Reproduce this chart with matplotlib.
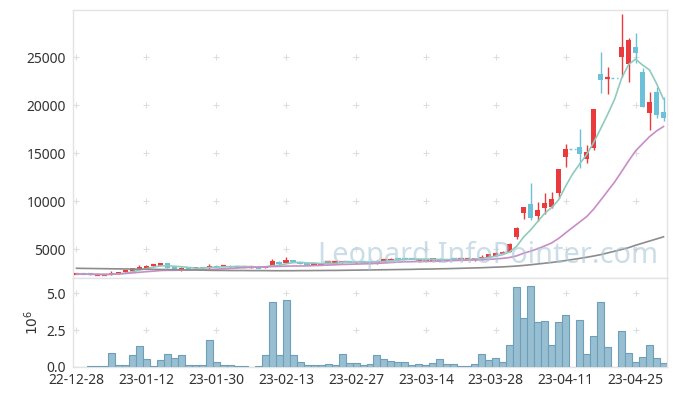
"""
Candlestick chart with moving averages and volume
"""

import numpy as np
import pandas as pd
import matplotlib
matplotlib.use("Agg")
import matplotlib.pyplot as plt

plt.rcParams["font.family"] = ["Noto Sans", "DejaVu Sans"]

# trading-day index 0..84, labels every 10 sessions
tick_labels = ["22-12-28", "23-01-12", "23-01-30", "23-02-13", "23-02-27",
               "23-03-14", "23-03-28", "23-04-11", "23-04-25"]

opens = [2400, 2420, 2400, 2340, 2320, 2330, 2460, 2670, 2700, 2900,
         3100, 3310, 3290, 3540, 3190, 2800, 3150, 3000, 3140, 3000,
         3300, 3280, 3300, 3190, 3180, 3110, 3090, 3020, 3260, 3710,
         3610, 3890, 3680, 3610, 3420, 3370, 3630, 3630, 3610, 3660,
         3540, 3660, 3600, 3540, 3880, 3820, 4000, 4000, 3970, 3680,
         3870, 3820, 4030, 3750, 4030, 3960, 3960, 3850, 3890, 4240,
         4310, 4510, 4760, 6310, 8810, 9720, 8500, 9330, 9440, 10830,
         14650, 15450, 15690, 14400, 15580, 23230, 22870, 22870, 25070, 24270,
         26110, 23470, 19170, 21350, 19270]
highs = [2460, 2430, 2410, 2370, 2350, 2770, 2650, 2850, 3100, 3360,
         3350, 3370, 3560, 3600, 3220, 3150, 3180, 3170, 3160, 3500,
         3350, 3320, 3330, 3210, 3200, 3140, 3110, 3280, 3990, 3760,
         4170, 3920, 3700, 3630, 3460, 3600, 3660, 3660, 3770, 3680,
         3720, 3680, 3630, 3840, 3910, 4060, 4020, 4020, 3990, 3970,
         3900, 4130, 4060, 3980, 4050, 3990, 3990, 4080, 4410, 4530,
         4670, 4780, 5690, 7360, 9400, 11900, 9930, 10830, 10940, 13360,
         15970, 15450, 17530, 15860, 19610, 25520, 23960, 22870, 29480, 26980,
         27490, 23920, 21420, 21870, 20830]
lows = [2380, 2390, 2370, 2320, 2300, 2300, 2440, 2640, 2680, 2880,
        3080, 3280, 3270, 3060, 2820, 2780, 2960, 2980, 2980, 2980,
        3160, 3260, 3100, 3170, 3160, 3090, 3060, 3000, 3240, 3400,
        3590, 3660, 3450, 3350, 3400, 3350, 3610, 3600, 3590, 3630,
        3520, 3630, 3590, 3520, 3860, 3800, 3970, 3970, 3940, 3660,
        3850, 3800, 3730, 3730, 3990, 3940, 3940, 3830, 3870, 4220,
        4290, 4490, 4740, 6030, 8125, 8050, 7980, 8650, 9300, 10310,
        13570, 15450, 13440, 14020, 15300, 21250, 21150, 22870, 22980, 22400,
        24380, 19790, 17430, 18670, 18400]
closes = [2430, 2400, 2380, 2350, 2340, 2480, 2620, 2830, 3020, 3190,
          3300, 3340, 3540, 3100, 2860, 3100, 2990, 3140, 3000, 3300,
          3190, 3300, 3120, 3180, 3190, 3120, 3080, 3260, 3780, 3430,
          3890, 3680, 3470, 3370, 3430, 3580, 3640, 3640, 3750, 3640,
          3710, 3640, 3610, 3820, 3890, 4030, 3990, 3990, 3960, 3960,
          3880, 4100, 3750, 3960, 4010, 3970, 3970, 4060, 4240, 4510,
          4650, 4760, 5520, 7190, 9380, 8290, 9090, 9790, 10240, 13360,
          15450, 15450, 14930, 15170, 19610, 22640, 22870, 22870, 26040, 26800,
          25480, 19790, 20310, 18990, 18650]
# million shares; 0 = no trading that day
volumes = [0, 0, 0.05, 0.05, 0.05, 0.98, 0.16, 0.16, 0.78, 1.43,
           0.57, 0.09, 0.50, 0.91, 0.64, 0.78, 0.16, 0.16, 0.16, 1.80,
           0.37, 0.16, 0.16, 0.09, 0.09, 0.03, 0.09, 0.84, 4.38, 0.78,
           4.52, 0.78, 0.37, 0.16, 0.16, 0.16, 0.23, 0.12, 0.91, 0.30,
           0.30, 0.16, 0.23, 0.78, 0.57, 0.43, 0.36, 0.36, 0.16, 0.23,
           0.16, 0.30, 0.57, 0.23, 0.23, 0.09, 0.09, 0.23, 0.91, 0.50,
           0.64, 0.36, 1.52, 5.41, 3.30, 5.50, 3.02, 3.09, 1.52, 3.02,
           3.50, 0, 3.16, 0.91, 2.07, 4.38, 1.32, 0, 2.41, 0.98,
           0.37, 0.71, 1.46, 0.64, 0.30]
# long moving average (history before the window)
ma_long = [3020, 3010, 3000, 2990, 2980, 2970, 2960, 2950, 2940, 2930,
           2920, 2910, 2900, 2890, 2880, 2870, 2860, 2850, 2830, 2810,
           2800, 2800, 2790, 2790, 2790, 2780, 2780, 2780, 2770, 2770,
           2770, 2770, 2780, 2780, 2790, 2790, 2800, 2800, 2810, 2820,
           2830, 2840, 2850, 2860, 2870, 2880, 2890, 2900, 2910, 2930,
           2940, 2950, 2970, 2980, 3000, 3020, 3040, 3060, 3080, 3110,
           3140, 3170, 3210, 3260, 3320, 3390, 3470, 3550, 3630, 3720,
           3830, 3940, 4050, 4170, 4300, 4440, 4620, 4800, 4980, 5170,
           5420, 5640, 5860, 6080, 6300]

df = pd.DataFrame({"open": opens, "high": highs, "low": lows,
                   "close": closes, "vol": volumes})
df["ma5"] = df["close"].rolling(5, min_periods=1).mean()
df["ma20"] = df["close"].rolling(20, min_periods=1).mean()
x = np.arange(len(df))

UP = "#ea3a3d"
DOWN = "#6cc1d9"
GRID = "#dedede"
SPINE = "#e3e3e3"

fig = plt.figure(figsize=(6.77, 3.96), dpi=100)
ax = fig.add_axes([73 / 677, 1 - 278 / 396, 594 / 677, 268 / 396])
axv = fig.add_axes([73 / 677, 1 - 367 / 396, 594 / 677, 89 / 396], sharex=ax)

# candles
for i, r in df.iterrows():
    if r["vol"] == 0 and i > 1:
        ax.hlines(r["close"], i - 0.5, i + 0.5, color=DOWN, lw=1.0,
                  linestyles=(0, (2, 2)), zorder=3)
        continue
    up = r["close"] >= r["open"]
    c = UP if up else DOWN
    ax.vlines(i, r["low"], r["high"], color=c, lw=1.0, zorder=3)
    lo, hi = sorted([r["open"], r["close"]])
    if hi - lo < 40:
        ax.hlines(r["close"], i - 0.38, i + 0.38, color=c, lw=1.6, zorder=3)
    else:
        ax.bar(i, hi - lo, bottom=lo, width=0.76, color=c, lw=0, zorder=3)

ax.plot(x, df["ma5"], color="#8fcbbd", lw=1.2, zorder=4)
ax.plot(x, df["ma20"], color="#c98cc6", lw=1.2, zorder=4)
ax.plot(x, ma_long, color="#8c8c8c", lw=1.2, zorder=4)

ax.text(0.699, 0.055, "Leopard.InfoPointer.com", transform=ax.transAxes,
        ha="center", va="baseline", fontsize=20.8, color="#a9c7d9",
        alpha=0.6, zorder=6)

# volume
axv.bar(x, df["vol"], width=1.0, color="#98bfd1", edgecolor="#6e9fba",
        lw=0.8, zorder=3)

xt = np.arange(0, 85, 10)
ax.set_xlim(-0.5, 84.5)
ax.set_ylim(2010, 29930)
axv.set_ylim(0, 6.02)

yt = [5000, 10000, 15000, 20000, 25000]
ax.set_yticks(yt)
ax.set_yticklabels([str(v) for v in yt])
vt = [0, 2.5, 5.0]
axv.set_yticks(vt)
axv.set_yticklabels(["%.1f" % v for v in vt])
axv.set_xticks(xt)
axv.set_xticklabels(tick_labels)
ax.tick_params(axis="x", labelbottom=False)

for a, ys in ((ax, yt), (axv, vt[1:])):
    gx, gy = np.meshgrid(xt, ys)
    a.plot(gx.ravel(), gy.ravel(), "+", color=GRID, ms=5, mew=0.8, zorder=1)
    a.tick_params(length=0, labelsize=10, labelcolor="#333333", pad=5)
    for s in a.spines.values():
        s.set_color(SPINE)
        s.set_linewidth(1.0)
axv.tick_params(axis="x", pad=4)

fig.text(33 / 677, 1 - 322 / 396, r"$10^{6}$", rotation=90,
         ha="center", va="center", fontsize=10, color="#333333")

fig.savefig("out.png", dpi=100)
